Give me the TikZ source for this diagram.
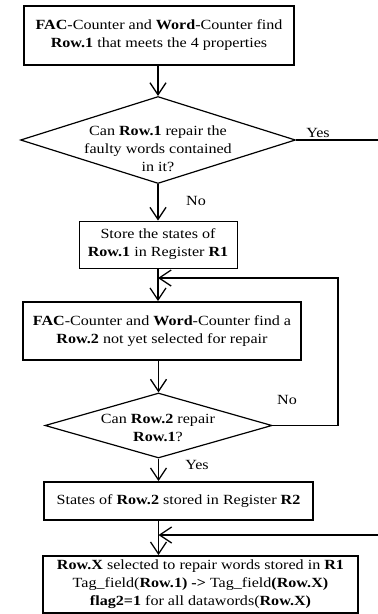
\documentclass[tikz,border=0pt]{standalone}
\usepackage{fontspec}
\setmainfont[FakeStretch=1.15]{Liberation Serif}
\usetikzlibrary{shapes.geometric,arrows.meta}
\tikzset{
  thickbox/.style={draw, line width=1.8pt, align=center, inner sep=0pt},
  thinbox/.style={draw, line width=1pt, align=center, inner sep=0pt},
  decision/.style={draw, diamond, line width=1.2pt, inner sep=0pt},
  flowarrow/.style={line width=1.3pt, -{Straight Barb[length=12pt,width=16pt]}},
  flowline/.style={line width=1.3pt},
}
\begin{document}
\begin{tikzpicture}[x=1pt,y=-1pt,font=\fontsize{14}{18}\selectfont]
  \useasboundingbox (0,0) rectangle (378,614);

  % Boxes and decisions
  \node[thickbox, minimum width=270pt, minimum height=59pt] (find1) at (159,35.5)
    {\textbf{FAC}-Counter and \textbf{Word}-Counter find\\\textbf{Row.1} that meets the 4 properties};
  \node[decision, minimum width=275pt, minimum height=87pt] (can1) at (158,140) {};
  \node[align=center, inner sep=0pt] (can1text) at (158,149)
    {Can \textbf{Row.1} repair the\\faulty words contained\\in it?};
  \node[thinbox, minimum width=158pt, minimum height=47pt] (store1) at (158,244.5)
    {Store the states of\\\textbf{Row.1} in Register \textbf{R1}};
  \node[thickbox, minimum width=278pt, minimum height=58pt] (find2) at (162,331)
    {\textbf{FAC}-Counter and \textbf{Word}-Counter find a\\\textbf{Row.2} not yet selected for repair};
  \node[decision, minimum width=227pt, minimum height=65pt] (can2) at (158.5,425.5) {};
  \node[align=center, inner sep=0pt] (can2text) at (158,428)
    {Can \textbf{Row.2} repair\\\textbf{Row.1}?};
  \node[thickbox, minimum width=269pt, minimum height=38pt] (store2) at (178.5,501)
    {States of \textbf{Row.2} stored in Register \textbf{R2}};
  \node[thickbox, minimum width=315pt, minimum height=57pt] (select) at (200.5,584.5)
    {\textbf{Row.X} selected to repair words stored in \textbf{R1}\\
     Tag\_field(\textbf{Row.1) -{}>} Tag\_field\textbf{(Row.X)}\\
     \textbf{flag2=1} for all datawords(\textbf{Row.X)}};

  % Labels
  \node (yes1) at (318,133) {Yes};
  \node (no1) at (196,201) {No};
  \node (no2) at (287,400) {No};
  \node (yes2) at (197,465) {Yes};

  \coordinate (yesend) at (378,140);
  \coordinate (back) at (338,278);
  \coordinate (incoming) at (378,535);

  % Connectors
  \draw[flowarrow] (can1.north |- find1.south) -- (can1.north);
  \draw[flowline] (can1.east) -- (yesend);
  \draw[flowarrow] (can1.south) -- (store1.north);
  \draw[flowarrow] (store1.south) -- (store1.south |- find2.north);
  \draw[flowarrow] (can2.east) -| (back) -- (store1.south |- back);
  \draw[flowarrow] (can2.north |- find2.south) -- (can2.north);
  \draw[flowarrow] (can2.south) -- (can2.south |- store2.north);
  \draw[flowarrow] (can2.south |- store2.south) -- (can2.south |- select.north);
  \draw[flowarrow] (incoming) -- (can2.south |- incoming);
\end{tikzpicture}
\end{document}
